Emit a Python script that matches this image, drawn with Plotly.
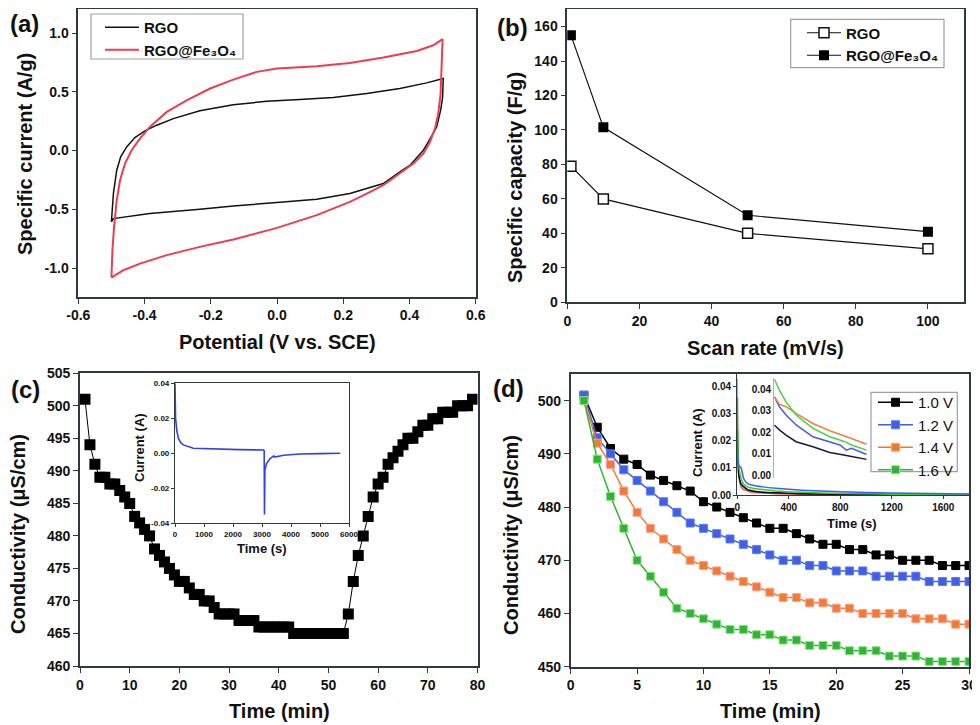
import plotly.graph_objects as go

# the page adds an 8px body margin, so the figure is drawn 8px smaller
# and all reference pixel positions are shifted by that amount
PAGE_W, PAGE_H, OFF = 980, 725, 8
W, H = PAGE_W - OFF, PAGE_H - OFF
FONT = "Liberation Sans, Arial, sans-serif"
AX = "#2f3a40"

# ---- (a) cyclic voltammetry loops (forward + reverse, closed)
rgo_potential = [-0.500, -0.494, -0.484, -0.472, -0.454, -0.429, -0.399, -0.363, -0.313, -0.233,
                 -0.132, -0.031, 0.069, 0.170, 0.271, 0.371, 0.452, 0.502,
                 0.500, 0.494, 0.482, 0.472, 0.457, 0.442, 0.402, 0.371, 0.321, 0.220, 0.120,
                 0.000, -0.132, -0.233, -0.384, -0.494, -0.500]
rgo_current = [-0.607, -0.366, -0.167, -0.054, 0.031, 0.111, 0.167, 0.216, 0.272, 0.338,
               0.389, 0.420, 0.434, 0.451, 0.485, 0.528, 0.576, 0.613,
               0.450, 0.343, 0.200, 0.145, 0.074, 0.003, -0.125, -0.182, -0.281, -0.366, -0.414,
               -0.443, -0.471, -0.499, -0.536, -0.579, -0.607]
fe_potential = [-0.500, -0.497, -0.492, -0.484, -0.474, -0.459, -0.439, -0.414, -0.384, -0.333,
                -0.273, -0.202, -0.132, -0.061, 0.000, 0.120, 0.220, 0.321, 0.422, 0.472, 0.500,
                0.498, 0.494, 0.487, 0.477, 0.462, 0.442, 0.412, 0.371, 0.321, 0.271, 0.220,
                0.120, 0.000, -0.132, -0.233, -0.333, -0.414, -0.464, -0.500]
fe_current = [-1.081, -0.850, -0.650, -0.423, -0.253, -0.111, 0.003, 0.102, 0.201, 0.329,
              0.428, 0.528, 0.604, 0.670, 0.698, 0.718, 0.746, 0.792, 0.848, 0.896, 0.948,
              0.712, 0.485, 0.315, 0.187, 0.074, -0.026, -0.111, -0.196, -0.295, -0.366, -0.437,
              -0.550, -0.658, -0.757, -0.820, -0.890, -0.962, -1.019, -1.081]
a_xticks = [-0.6, -0.4, -0.2, 0.0, 0.2, 0.4, 0.6]
a_xlabels = ["-0.6", "-0.4", "-0.2", "0.0", "0.2", "0.4", "0.6"]
a_yticks = [-1.0, -0.5, 0.0, 0.5, 1.0]
a_ylabels = ["-1.0", "-0.5", "0.0", "0.5", "1.0"]
names = ["RGO", "RGO@Fe₃O₄"]

# ---- (b) specific capacity vs scan rate
scan_rate = [1, 10, 50, 100]
cap_rgo = [79, 60, 40, 31]
cap_fe = [155, 101.5, 50.5, 41]

# ---- (c) conductivity over time
c_time = list(range(1, 80))
c_cond = [501, 494, 491, 489, 489, 488, 488, 487, 486, 485,
          483, 482, 481, 480, 478, 477, 476, 475, 474, 473,
          473, 472, 471, 471, 470, 470, 469, 468, 468, 468,
          468, 467, 467, 467, 467, 466, 466, 466, 466, 466,
          466, 466, 465, 465, 465, 465, 465, 465, 465, 465,
          465, 465, 465, 468, 473, 477, 480, 483, 486, 488,
          489, 491, 492, 493, 494, 495, 495, 496, 497, 497,
          498, 498, 499, 499, 499, 500, 500, 500, 501]

# (c) inset current
ci_time = [0, 20, 60, 115, 200, 290, 630, 1440, 2200, 3040, 3075, 3085, 3100, 3160, 3280,
           3410, 3440, 3740, 4310, 5000, 5700]
ci_current = [0.040, 0.020, 0.0133, 0.0086, 0.0060, 0.0048, 0.0029, 0.0023, 0.0021, 0.0019,
              0.0015, -0.035, -0.0095, -0.0057, -0.0030, -0.0015, -0.0022, -0.0011, -0.0004,
              -0.0002, 0.0]
ci_yticks = [-0.04, -0.02, 0.0, 0.02, 0.04]
ci_ylabels = ["-0.04", "-0.02", "0.00", "0.02", "0.04"]

# ---- (d) conductivity at different voltages
d_time = list(range(1, 31))
d_10 = [501, 495, 491, 489, 488, 486, 485, 484, 483, 481, 480, 479, 478, 477, 476,
        476, 475, 474, 473, 473, 472, 472, 471, 471, 470, 470, 470, 469, 469, 469]
d_12 = [501, 493, 490, 487, 485, 483, 481, 479, 477, 476, 475, 474, 473, 472, 471,
        470, 470, 469, 469, 468, 468, 468, 467, 467, 467, 467, 466, 466, 466, 466]
d_14 = [500, 492, 488, 483, 479, 476, 474, 472, 470, 469, 468, 467, 466, 465, 464,
        463, 463, 462, 462, 461, 461, 460, 460, 460, 460, 459, 459, 459, 458, 458]
d_16 = [500, 489, 482, 476, 470, 467, 464, 461, 460, 459, 458, 457, 457, 456, 456,
        455, 455, 454, 454, 454, 453, 453, 453, 452, 452, 452, 451, 451, 451, 451]
d_labels = ["1.0 V", "1.2 V", "1.4 V", "1.6 V"]
d_colors = ["#000000", "#3f5fe6", "#f47a30", "#2fb52f"]
d_edge = ["#000000", "#5f7cf0", "#f7a0a0", "#8fe08f"]

# (d) inset current, full time
di_time = [0, 10, 30, 50, 80, 120, 200, 300, 500, 800, 1200, 1800]
di_10 = [0.024, 0.008, 0.004, 0.003, 0.002, 0.0015, 0.0010, 0.0008, 0.0005, 0.0003, 0.0002, 0.0001]
di_12 = [0.036, 0.011, 0.010, 0.006, 0.0042, 0.0036, 0.0030, 0.0025, 0.0018, 0.0012, 0.0007, 0.0004]
di_14 = [0.036, 0.008, 0.003, 0.002, 0.0015, 0.0010, 0.0007, 0.0005, 0.0003, 0.0002, 0.0001, 0.0001]
di_16 = [0.043, 0.012, 0.006, 0.004, 0.003, 0.0025, 0.0020, 0.0015, 0.0010, 0.0006, 0.0003, 0.0002]

# (d) zoomed view of the early decay
dz_time = [0, 55, 127, 236, 418, 600, 709, 782, 836, 1000]
dz_10 = [0.0233, 0.0210, 0.0186, 0.0155, 0.0132, 0.0105, 0.0097, 0.0090, 0.0086, 0.0073]
dz_12 = [0.0364, 0.0318, 0.0279, 0.0233, 0.0178, 0.0152, 0.0140, 0.0116, 0.0124, 0.0096]
dz_14 = [0.0364, 0.0330, 0.0318, 0.0287, 0.0240, 0.0206, 0.0190, 0.0178, 0.0170, 0.0143]
dz_16 = [0.0447, 0.0395, 0.0340, 0.0279, 0.0217, 0.0178, 0.0163, 0.0152, 0.0140, 0.0116]


def px(x):
    return min(max((x - OFF) / W, 0), 1)


def py(y):
    return min(max(1 - (y - OFF) / H, 0), 1)


fig = go.Figure()

# (a)
fig.add_trace(go.Scatter(x=rgo_potential, y=rgo_current, mode="lines", name=names[0],
                         line=dict(color="#111111", width=1.5), xaxis="x", yaxis="y", legend="legend"))
fig.add_trace(go.Scatter(x=fe_potential, y=fe_current, mode="lines", name=names[1],
                         line=dict(color="#f03c50", width=2), xaxis="x", yaxis="y", legend="legend"))

# (b)
fig.add_trace(go.Scatter(x=scan_rate, y=cap_rgo, mode="lines+markers", name=names[0],
                         line=dict(color="#111111", width=1.2),
                         marker=dict(symbol="square", size=10, color="white", line=dict(color="#111111", width=1.5)),
                         xaxis="x2", yaxis="y2", legend="legend2"))
fig.add_trace(go.Scatter(x=scan_rate, y=cap_fe, mode="lines+markers", name=names[1],
                         line=dict(color="#111111", width=1.2),
                         marker=dict(symbol="square", size=10, color="#000000"),
                         xaxis="x2", yaxis="y2", legend="legend2"))

# (c)
fig.add_trace(go.Scatter(x=c_time, y=c_cond, mode="lines+markers", showlegend=False,
                         line=dict(color="#000000", width=1),
                         marker=dict(symbol="square", size=11, color="#000000"),
                         xaxis="x3", yaxis="y3"))
fig.add_trace(go.Scatter(x=ci_time, y=ci_current, mode="lines", showlegend=False,
                         line=dict(color="#3340e8", width=1.6),
                         xaxis="x5", yaxis="y5"))

# (d)
for vals, lab, col, edge in zip([d_10, d_12, d_14, d_16], d_labels, d_colors, d_edge):
    fig.add_trace(go.Scatter(x=d_time, y=vals, mode="lines+markers", name=lab,
                             line=dict(color=col, width=1.5),
                             marker=dict(symbol="square", size=8, color=col, line=dict(color=edge, width=1)),
                             xaxis="x4", yaxis="y4", legend="legend3"))

for vals, col in zip([di_14, di_10, di_16, di_12], ["#f0505a", "#000000", "#2fd02f", "#3f5fe6"]):
    fig.add_trace(go.Scatter(x=di_time, y=vals, mode="lines", showlegend=False,
                             line=dict(color=col, width=1.5, shape="spline", smoothing=0.6),
                             xaxis="x6", yaxis="y6"))
for vals, col in zip([dz_10, dz_12, dz_14, dz_16], ["#1a1a40", "#4a5ae0", "#f08040", "#40d840"]):
    fig.add_trace(go.Scatter(x=dz_time, y=vals, mode="lines", showlegend=False,
                             line=dict(color=col, width=1.5),
                             xaxis="x7", yaxis="y7"))


def main_axis(domain, rng, dtick, anchor, size=14, vals=None, labels=None):
    d = dict(domain=domain, range=rng, dtick=dtick, tick0=0, showgrid=False, zeroline=False,
             showline=True, linecolor=AX, linewidth=1.6, mirror=True, automargin=False,
             ticks="outside", ticklen=5, tickwidth=1.4, tickcolor=AX, anchor=anchor,
             tickprefix="<b>", ticksuffix="</b>",
             tickfont=dict(family=FONT, size=size, color="#111111", weight=700))
    if vals is not None:
        d["tickmode"] = "array"
        d["tickvals"] = vals
        d["ticktext"] = labels
    return d


layout = dict(
    width=W, height=H, autosize=False,
    margin=dict(l=0, r=0, t=0, b=0, autoexpand=False),
    paper_bgcolor="white", plot_bgcolor="white",
    font=dict(family=FONT, color="#111111"),
    xaxis=main_axis([px(78.3), px(475.7)], [-0.6, 0.6], 0.2, "y", vals=a_xticks, labels=a_xlabels),
    # top of panel (a) sits above the visible page area, so its range is trimmed to match
    yaxis=main_axis([py(296.7), py(9)], [-1.244, 1.205], 0.5, "x", vals=a_yticks, labels=a_ylabels),
    xaxis2=main_axis([px(567.3), px(964)], [0, 110], 20, "y2"),
    yaxis2=main_axis([py(302.3), py(9.3)], [0, 170], 20, "x2"),
    xaxis3=main_axis([px(80), px(477.5)], [0, 80], 10, "y3"),
    yaxis3=main_axis([py(666), py(373.3)], [460, 505], 5, "x3"),
    xaxis4=main_axis([px(570.7), px(969)], [0, 30], 5, "y4"),
    yaxis4=main_axis([py(666.7), py(374)], [450, 505], 10, "x4"),
    xaxis5=main_axis([px(175), px(349)], [0, 6000], 1000, "y5", 8),
    yaxis5=main_axis([py(523.3), py(383.3)], [-0.04, 0.04], 0.02, "x5", 8, ci_yticks, ci_ylabels),
    xaxis6=main_axis([px(737.3), px(969)], [0, 1800], 400, "y6", 10),
    yaxis6=main_axis([py(495), py(374)], [0, 0.0447], 0.01, "x6", 10),
    xaxis7=dict(domain=[px(774.3), px(866.7)], range=[0, 1000], visible=False, anchor="y7",
                automargin=False),
    yaxis7=dict(domain=[py(478.3), py(378.3)], range=[-0.0015, 0.045], dtick=0.01, tick0=0,
                tickformat=".2f", showgrid=False, zeroline=False, showline=True,
                linecolor="#b0b0b0", linewidth=1.2, ticks="", anchor="x7", automargin=False,
                tickprefix="<b>", ticksuffix="</b>",
                tickfont=dict(family=FONT, size=10, color="#111111", weight=700)),
)
layout["yaxis6"]["tickformat"] = ".2f"
for k in ["xaxis5", "yaxis5", "xaxis6", "yaxis6"]:
    layout[k]["ticklen"] = 3
    layout[k]["linewidth"] = 1.2

# legends have no frame of their own; the frames are drawn as shapes below
leg_common = dict(xanchor="left", yanchor="top", bgcolor="rgba(0,0,0,0)", borderwidth=0,
                  tracegroupgap=0)
layout["legend"] = dict(leg_common, x=px(100), y=py(11), itemwidth=34,
                        font=dict(family=FONT, size=15, color="#111111", weight=700))
layout["legend2"] = dict(leg_common, x=px(802), y=py(16.5), itemwidth=34,
                         font=dict(family=FONT, size=15, color="#111111", weight=700))
layout["legend3"] = dict(leg_common, x=px(873), y=py(386), itemwidth=35,
                         font=dict(family=FONT, size=15, color="#111111"))

fig.update_layout(**layout)

for x0, y0, x1, y1 in [(91, 14, 243, 59), (790.7, 19.3, 944, 67.7), (871, 392.3, 957.3, 471.7)]:
    fig.add_shape(type="rect", xref="paper", yref="paper", x0=px(x0), x1=px(x1), y0=py(y1), y1=py(y0),
                  line=dict(color="#a0a0a0", width=1.2), fillcolor="rgba(0,0,0,0)", layer="above")

title_font = dict(family=FONT, size=20, color="#111111", weight=700)
small_title = dict(family=FONT, size=13, color="#111111", weight=700)
label_font = dict(family=FONT, size=24, color="#111111", weight=700)
texts = [
    ("(a)", 24, 24, 0, label_font),
    ("(b)", 512, 28, 0, label_font),
    ("(c)", 25, 389, 0, label_font),
    ("(d)", 509, 388, 0, label_font),
    ("Potential (V vs. SCE)", 277, 342, 0, title_font),
    ("Specific current (A/g)", 25, 154, -90, title_font),
    ("Scan rate (mV/s)", 765, 348, 0, title_font),
    ("Specific capacity (F/g)", 515, 178, -90, title_font),
    ("Time (min)", 279, 711, 0, title_font),
    ("Conductivity (μS/cm)", 18, 534, -90, title_font),
    ("Time (min)", 770, 711, 0, title_font),
    ("Conductivity (μS/cm)", 511, 535, -90, title_font),
    ("Current (A)", 139, 448, -90, small_title),
    ("Time (s)", 262, 548, 0, small_title),
    ("Current (A)", 697, 443, -90, small_title),
    ("Time (s)", 852, 523, 0, small_title),
]
for t, x, y, ang, f in texts:
    fig.add_annotation(text=t, x=px(x), y=py(y), xref="paper", yref="paper",
                       xanchor="center", yanchor="middle", showarrow=False,
                       textangle=ang, font=f)

fig.write_html("out.html")
